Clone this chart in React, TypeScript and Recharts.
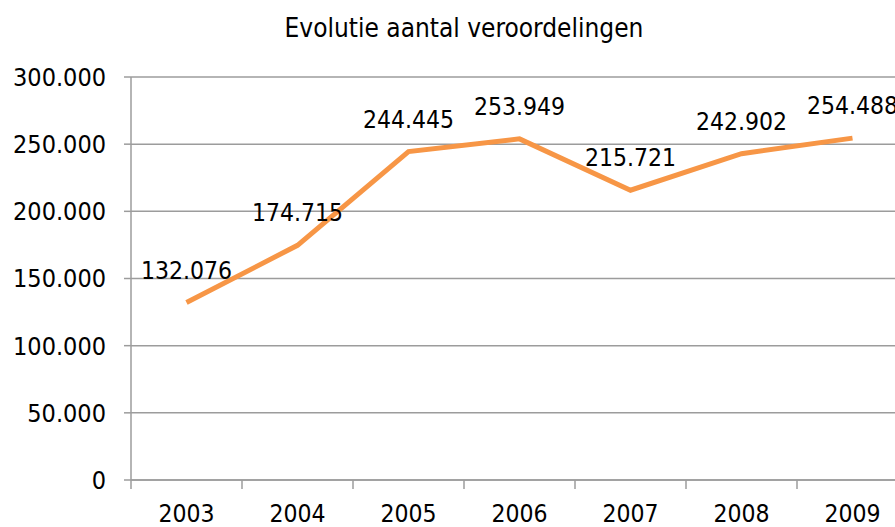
import { LineChart, Line, XAxis, YAxis, CartesianGrid, LabelList } from 'recharts'

const years = ['2003', '2004', '2005', '2006', '2007', '2008', '2009']
const convictions = [132076, 174715, 244445, 253949, 215721, 242902, 254488]
const yTicks = [0, 50000, 100000, 150000, 200000, 250000, 300000]

const chartData = years.map((year, i) => ({ year, total: convictions[i] }))

const FONT = '"DejaVu Sans Condensed", "DejaVu Sans", Verdana, sans-serif'
const GRID = '#9c9c9c'
const TXT = 24.5

// Dutch style thousands separator: 132076 -> 132.076
const fmt = (v: number) => String(v).replace(/\B(?=(\d{3})+(?!\d))/g, '.')

function YearTick(props: any) {
  const { x, y, payload, width, visibleTicksCount, index } = props
  const step = width && visibleTicksCount ? width / visibleTicksCount : 111
  return (
    <g>
      <line x1={x - step / 2} y1={y} x2={x - step / 2} y2={y + 9} stroke={GRID} strokeWidth={1.5} />
      {index === visibleTicksCount - 1 && (
        <line x1={x + step / 2} y1={y} x2={x + step / 2} y2={y + 9} stroke={GRID} strokeWidth={1.5} />
      )}
      <text x={x} y={y + 42} textAnchor="middle" fontSize={TXT} fontFamily={FONT} fill="#000">
        {payload.value}
      </text>
    </g>
  )
}

export default function App() {
  return (
    <div
      style={{
        position: 'absolute',
        left: 0,
        top: 0,
        width: 895,
        height: 527,
        overflow: 'hidden',
        background: '#fff',
      }}
    >
      <svg width={895} height={60} style={{ position: 'absolute', left: 0, top: 0 }}>
        <text x={464} y={37} textAnchor="middle" fontSize={26} fontFamily={FONT} fill="#000">
          Evolutie aantal veroordelingen
        </text>
      </svg>
      <LineChart
        width={912}
        height={527}
        data={chartData}
        margin={{ top: 77, right: 4, bottom: 0, left: 0 }}
      >
        <CartesianGrid vertical={false} stroke={GRID} strokeWidth={1.5} />
        <XAxis
          dataKey="year"
          scale="band"
          axisLine={{ stroke: GRID, strokeWidth: 1.5 }}
          tickLine={false}
          tickSize={0}
          tickMargin={0}
          interval={0}
          tick={<YearTick />}
          height={47}
        />
        <YAxis
          width={131}
          domain={[0, 300000]}
          ticks={yTicks}
          tickFormatter={fmt}
          axisLine={{ stroke: GRID, strokeWidth: 1.5 }}
          tickLine={{ stroke: GRID, strokeWidth: 1.5 }}
          tickSize={7}
          tickMargin={18}
          tick={{ fontSize: 25, fontFamily: FONT, fill: '#000' }}
        />
        <Line
          type="linear"
          dataKey="total"
          stroke="#F79646"
          strokeWidth={5}
          dot={false}
          isAnimationActive={false}
        >
          <LabelList
            dataKey="total"
            position="top"
            offset={24}
            formatter={(v: any) => fmt(Number(v))}
            style={{ fontSize: TXT, fontFamily: FONT, fill: '#000' }}
          />
        </Line>
      </LineChart>
    </div>
  )
}
